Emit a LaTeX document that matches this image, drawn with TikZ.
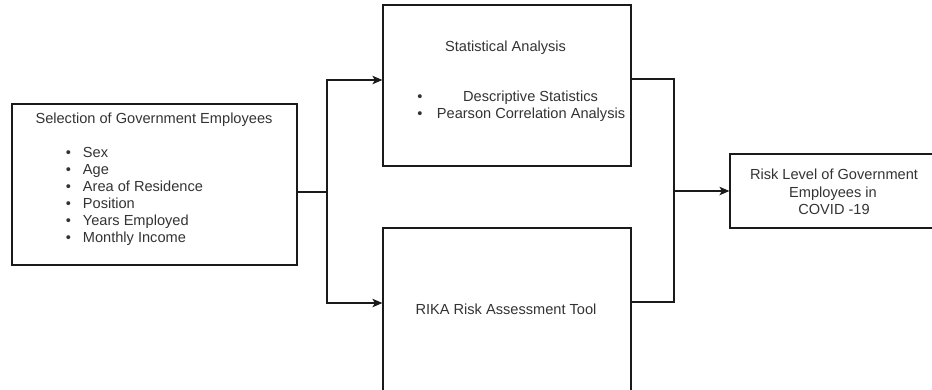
\documentclass[tikz,border=0pt]{standalone}
\usepackage{fontspec}
\setmainfont{Liberation Sans}
\usetikzlibrary{arrows.meta}
\definecolor{txt}{HTML}{333333}
\definecolor{ln}{HTML}{1A1A1A}
\newcommand{\bul}{\makebox[0pt][c]{\textbullet}}
\begin{document}
\begin{tikzpicture}[x=1pt,y=-1pt,
  box/.style={draw=ln,line width=1.2pt,minimum width=#1,inner sep=0pt},
  lbl/.style={text=txt,font=\fontsize{14.6}{17}\selectfont,inner sep=0pt},
  conn/.style={draw=ln,line width=1.2pt},
  arr/.style={conn,-{Stealth[length=10pt,width=8.5pt,inset=2.5pt]}}]
\useasboundingbox (0,0) rectangle (932,389);
\clip (0,0) rectangle (932,389);
% boxes
\node[box=285pt,minimum height=161pt] (L) at (154.5,184.5) {};
\node[box=248pt,minimum height=161pt] (S) at (507,85.5) {};
\node[box=248pt,minimum height=164pt] (B) at (507,310) {};
\node[box=208pt,minimum height=74pt] (R) at (834,191) {};
% left box text
\node[lbl,anchor=base] (Lt) at (154,123) {Selection of Government Employees};
\node[lbl,anchor=base] (b1) at (68.5,157) {\bul};
\node[lbl,anchor=base] (b2) at (68.5,174) {\bul};
\node[lbl,anchor=base] (b3) at (68.5,191) {\bul};
\node[lbl,anchor=base] (b4) at (68.5,208) {\bul};
\node[lbl,anchor=base] (b5) at (68.5,225) {\bul};
\node[lbl,anchor=base] (b6) at (68.5,242) {\bul};
\node[lbl,anchor=base west] (i1) at (82.7,157) {Sex};
\node[lbl,anchor=base west] (i2) at (82.7,174) {Age};
\node[lbl,anchor=base west] (i3) at (82.7,191) {Area of Residence};
\node[lbl,anchor=base west] (i4) at (82.7,208) {Position};
\node[lbl,anchor=base west] (i5) at (82.7,225) {Years Employed};
\node[lbl,anchor=base west] (i6) at (82.7,242) {Monthly Income};
% statistical analysis text
\node[lbl,anchor=base] (St) at (505.6,51) {Statistical Analysis};
\node[lbl,anchor=base] (sb1) at (420,101.5) {\bul};
\node[lbl,anchor=base] (sb2) at (420,118) {\bul};
\node[lbl,anchor=base west] (s1) at (463,101.5) {Descriptive Statistics};
\node[lbl,anchor=base west] (s2) at (436.7,118) {Pearson Correlation Analysis};
% RIKA text
\node[lbl,anchor=base] (Bt) at (506,314) {RIKA Risk Assessment Tool};
% result text
\node[lbl,anchor=base] (r1) at (834,179) {Risk Level of Government};
\node[lbl,anchor=base] (r2) at (833,197) {Employees in};
\node[lbl,anchor=base] (r3) at (834,214) {COVID -19};
% connectors
\coordinate (j1) at (327,192);
\coordinate (ya) at (0,80);
\coordinate (yb) at (0,303);
\coordinate (j2) at (674,191);
\coordinate (yc) at (0,79);
\coordinate (yd) at (0,302);
\draw[conn] (L.east |- j1) -- (j1);
\draw[arr] (j1) |- (S.west |- ya);
\draw[arr] (j1) |- (B.west |- yb);
\draw[conn] (S.east |- yc) -| (j2);
\draw[conn] (B.east |- yd) -| (j2);
\draw[arr] (j2) -- (R.west);
\end{tikzpicture}
\end{document}
